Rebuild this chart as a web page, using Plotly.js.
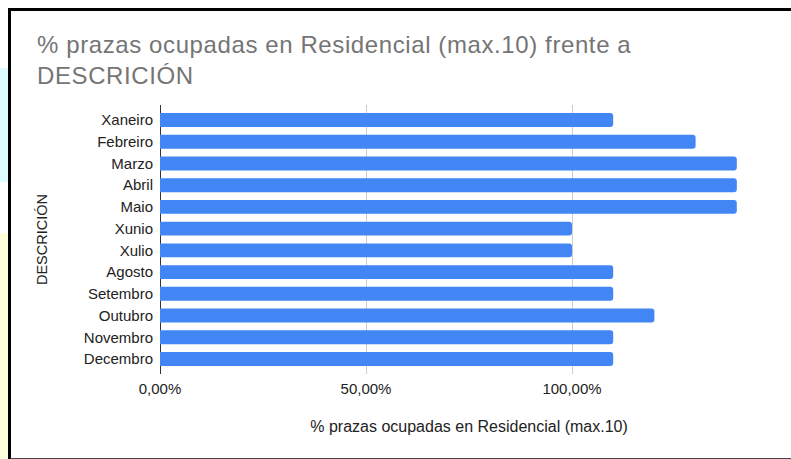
<!DOCTYPE html>
<html>
<head>
<meta charset="utf-8">
<script src="https://cdn.plot.ly/plotly-3.0.1.min.js"></script>
<style>
  html, body { margin: 0; padding: 0; background: #ffffff; width: 791px; height: 459px; overflow: hidden; }
  #stripCyan { position: absolute; left: 0; top: 68px; width: 9px; height: 114px; background: #dcfcff; }
  #stripYellow { position: absolute; left: 0; top: 233px; width: 9px; height: 226px; background: #fffedb; }
  #frame { position: absolute; left: 8px; top: 8px; width: 800px; height: 447px; background: #ffffff;
           border-top: 3px solid #000; border-left: 3px solid #000; border-bottom: 2px solid #444; }
  #chart { position: absolute; left: 0; top: 0; width: 791px; height: 459px; }
  #chart .gtitle { letter-spacing: 0.6px; }
</style>
</head>
<body>
<div id="stripCyan"></div>
<div id="stripYellow"></div>
<div id="frame"></div>
<div id="chart"></div>
<script>
const categories = ["Xaneiro", "Febreiro", "Marzo", "Abril", "Maio", "Xunio", "Xulio",
                    "Agosto", "Setembro", "Outubro", "Novembro", "Decembro"];
const values = [1.10, 1.30, 1.40, 1.40, 1.40, 1.00, 1.00, 1.10, 1.10, 1.20, 1.10, 1.10];
const tickVals = [0, 0.5, 1.0, 1.5];
const tickText = ["0,00%", "50,00%", "100,00%", ""];
const chartTitle = "% prazas ocupadas en Residencial (max.10) frente a<br>DESCRICIÓN";
const xTitle = "% prazas ocupadas en Residencial (max.10)";
const yTitle = "DESCRICIÓN";

const font = "Arial, 'Liberation Sans', sans-serif";

const trace = {
  type: "bar",
  orientation: "h",
  y: categories,
  x: values,
  marker: { color: "#4285f4", cornerradius: 3 },
  hoverinfo: "none"
};

const layout = {
  width: 791,
  height: 459,
  paper_bgcolor: "rgba(0,0,0,0)",
  plot_bgcolor: "rgba(0,0,0,0)",
  margin: { l: 160, r: 13, t: 105, b: 85 },
  separators: ",.",
  showlegend: false,
  bargap: 0.36,
  title: {
    text: chartTitle,
    font: { family: font, size: 24, color: "#757575" },
    xref: "container", x: 37 / 791, xanchor: "left",
    yref: "container", y: 1 - 53 / 459, yanchor: "top"
  },
  xaxis: {
    range: [0, 1.5],
    tickvals: tickVals,
    ticktext: tickText,
    showgrid: true,
    gridcolor: "#cccccc",
    gridwidth: 1,
    zeroline: true,
    zerolinecolor: "#333333",
    zerolinewidth: 1,
    showline: false,
    ticks: "",
    ticklabelstandoff: 4,
    tickfont: { family: font, size: 15, color: "#222222" },
    title: { text: xTitle, standoff: 24, font: { family: font, size: 16, color: "#222222" } },
    fixedrange: true
  },
  yaxis: {
    type: "category",
    range: [11.69, -0.69],
    showgrid: false,
    zeroline: false,
    showline: false,
    ticks: "",
    ticklabelstandoff: 6,
    tickfont: { family: font, size: 15, color: "#222222" },
    title: { text: yTitle, standoff: 32, font: { family: font, size: 14.5, color: "#222222" } },
    fixedrange: true
  }
};

Plotly.newPlot("chart", [trace], layout, { displayModeBar: false, staticPlot: true });
</script>
</body>
</html>
